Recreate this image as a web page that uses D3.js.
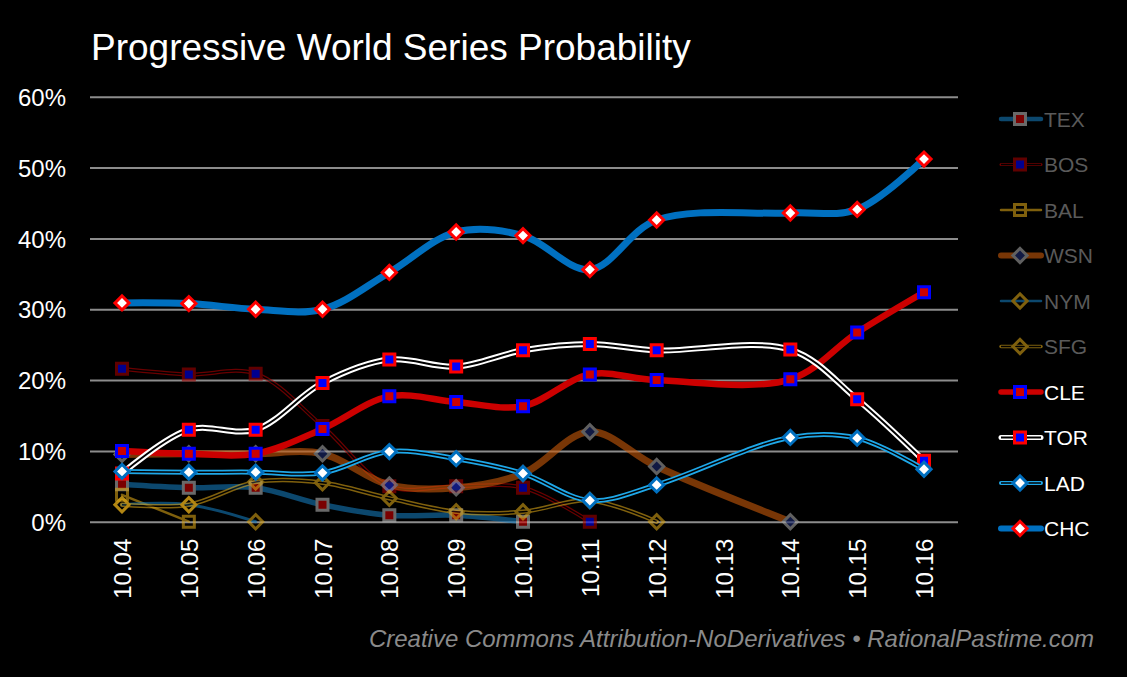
<!DOCTYPE html>
<html>
<head>
<meta charset="utf-8">
<script src="https://d3js.org/d3.v7.min.js"></script>
<style>
  html, body { margin: 0; padding: 0; background: #000; }
  text { font-family: "Liberation Sans", Arial, Helvetica, sans-serif; }
</style>
</head>
<body>
<div class="canvas"></div>
<script>
// data (percent), null = no reading that day
const dates = ['10.04','10.05','10.06','10.07','10.08','10.09','10.10','10.11','10.12','10.13','10.14','10.15','10.16'];
const yTicks = [0, 10, 20, 30, 40, 50, 60];

const tex = [5.3, 4.8, 4.8, 2.4, 0.9, 0.9, 0.0];
const bos = [21.6, 20.8, 20.9, 13.5, 5.0, 5.0, 4.8, 0.0];
const bal = [3.8, 0.0];
const wsn = [9.5, 9.6, 9.6, 9.6, 5.2, 4.8, 6.8, 12.7, 7.8, null, 0.0];
const nym = [2.4, 2.4, 0.0];
const sfg = [2.4, 2.4, 5.6, 5.5, 3.3, 1.4, 1.4, 3.0, 0.0];
const cle = [10.0, 9.6, 9.6, 13.1, 17.7, 16.9, 16.3, 20.8, 20.0, null, 20.1, 26.7, 32.4];
const tor = [6.8, 13.0, 13.0, 19.6, 22.9, 21.9, 24.2, 25.1, 24.2, null, 24.3, 17.3, 8.6];
const lad = [7.1, 7.0, 7.0, 6.9, 9.9, 8.9, 6.8, 3.0, 5.2, null, 11.9, 11.8, 7.4];
const chc = [30.9, 30.8, 30.0, 30.0, 35.2, 40.9, 40.4, 35.6, 42.6, null, 43.6, 44.1, 51.2];

// series styles, in legend / drawing order
const series = [
  {name: 'TEX', values: tex, out: true,  line: '#1478b8', lw: 5.5, inner: null, shape: 'square',  fill: '#cc0000', stroke: '#b0b0b0'},
  {name: 'BOS', values: bos, out: true,  line: '#b00000', lw: 4,   inner: 1.5,  shape: 'square',  fill: '#0000ee', stroke: '#a00000'},
  {name: 'BAL', values: bal, out: true,  line: '#d4a017', lw: 2.5, inner: null, shape: 'square',  fill: 'none',    stroke: '#d4a017'},
  {name: 'WSN', values: wsn, out: true,  line: '#c85a0a', lw: 7,   inner: null, shape: 'diamond', fill: '#1c2a70', stroke: '#a0a0a0'},
  {name: 'NYM', values: nym, out: true,  line: '#1478b8', lw: 3,   inner: null, shape: 'diamond', fill: 'none',    stroke: '#d4a017'},
  {name: 'SFG', values: sfg, out: true,  line: '#d4a017', lw: 4.5, inner: 1.5,  shape: 'diamond', fill: 'none',    stroke: '#d4a017'},
  {name: 'CLE', values: cle, out: false, line: '#cc0000', lw: 6.5, inner: null, shape: 'square',  fill: '#cc0000', stroke: '#0000ff'},
  {name: 'TOR', values: tor, out: false, line: '#ffffff', lw: 6,   inner: 2,    shape: 'square',  fill: '#0000ff', stroke: '#ff0000'},
  {name: 'LAD', values: lad, out: false, line: '#1ea7e8', lw: 5,   inner: 1.5,  shape: 'diamond', fill: '#ffffff', stroke: '#0070c0'},
  {name: 'CHC', values: chc, out: false, line: '#0070c0', lw: 7,   inner: null, shape: 'diamond', fill: '#ffffff', stroke: '#ff0000'}
];

const width = 1127;
const height = 677;

const svg = d3.select('.canvas')
  .append('svg')
  .attr('width', width)
  .attr('height', height);

svg.append('rect')
  .attr('width', width)
  .attr('height', height)
  .attr('fill', '#000');

// title
svg.append('text')
  .attr('x', 91)
  .attr('y', 60)
  .attr('fill', '#fff')
  .attr('font-size', '37px')
  .text('Progressive World Series Probability');

// footer
svg.append('text')
  .attr('x', 1094)
  .attr('y', 647)
  .attr('text-anchor', 'end')
  .attr('fill', '#8a8a8a')
  .attr('font-size', '24px')
  .attr('font-style', 'italic')
  .text('Creative Commons Attribution-NoDerivatives \u2022 RationalPastime.com');

// scales
const x = d3.scalePoint()
  .domain(dates)
  .range([122, 924]);

const y = d3.scaleLinear()
  .domain([0, 60])
  .range([521.7, 96.8]);

// y axis with gridlines
const yAxis = d3.axisLeft(y)
  .tickValues(yTicks)
  .tickSize(-868)
  .tickPadding(24)
  .tickFormat(d => d + '%');

const yAxisGroup = svg.append('g')
  .attr('transform', 'translate(90,0)')
  .call(yAxis);

yAxisGroup.select('.domain').remove();
yAxisGroup.selectAll('line')
  .attr('stroke', '#8c8c8c')
  .attr('stroke-width', 2);
yAxisGroup.selectAll('text')
  .attr('fill', '#fff')
  .attr('font-size', '24px')
  .attr('dy', '0.36em');

// x axis
const xAxis = d3.axisBottom(x).tickSize(0);

const xAxisGroup = svg.append('g')
  .attr('transform', `translate(0, ${y(0)})`)
  .call(xAxis);

xAxisGroup.select('.domain').remove();
xAxisGroup.selectAll('text')
  .attr('fill', '#fff')
  .attr('font-size', '24px')
  .attr('text-anchor', 'end')
  .attr('transform', 'rotate(-90)')
  .attr('x', -17)
  .attr('y', 0)
  .attr('dy', '0.36em');

// marker helpers
const symbolPath = shape => shape === 'square'
  ? d3.symbol().type(d3.symbolSquare).size(121)()
  : d3.symbol().type(d3.symbolSquare).size(100)();

const drawMarker = (g, s, cx, cy) => {
  g.append('path')
    .attr('d', symbolPath(s.shape))
    .attr('transform', `translate(${cx},${cy})` + (s.shape === 'diamond' ? ' rotate(45)' : ''))
    .attr('fill', s.fill)
    .attr('stroke', s.stroke)
    .attr('stroke-width', 3);
};

const line = d3.line()
  .x(d => x(d.date))
  .y(d => y(d.v))
  .curve(d3.curveCatmullRom.alpha(0.5));

const plot = svg.append('g');

series.forEach(s => {
  const pts = s.values
    .map((v, i) => ({date: dates[i], v: v}))
    .filter(d => d.v !== null);

  const g = plot.append('g')
    .attr('opacity', s.out ? 0.6 : 1);

  g.append('path')
    .datum(pts)
    .attr('d', line)
    .attr('fill', 'none')
    .attr('stroke', s.line)
    .attr('stroke-width', s.lw)
    .attr('stroke-linecap', 'round')
    .attr('stroke-linejoin', 'round');

  if (s.inner) {
    g.append('path')
      .datum(pts)
      .attr('d', line)
      .attr('fill', 'none')
      .attr('stroke', '#000')
      .attr('stroke-width', s.inner);
  }

  pts.forEach(d => drawMarker(g, s, x(d.date), y(d.v)));
});

// legend
const legend = svg.append('g');

series.forEach((s, i) => {
  const ly = 119 + i * 45.5;
  const g = legend.append('g')
    .attr('opacity', s.out ? 0.6 : 1);

  g.append('line')
    .attr('x1', 1001).attr('x2', 1041)
    .attr('y1', ly).attr('y2', ly)
    .attr('stroke', s.line)
    .attr('stroke-width', Math.max(s.lw - 1, 2.5))
    .attr('stroke-linecap', 'round');

  if (s.inner) {
    g.append('line')
      .attr('x1', 1001).attr('x2', 1041)
      .attr('y1', ly).attr('y2', ly)
      .attr('stroke', '#000')
      .attr('stroke-width', s.inner);
  }

  drawMarker(g, s, 1020, ly);

  legend.append('text')
    .attr('x', 1044)
    .attr('y', ly)
    .attr('dy', '0.36em')
    .attr('fill', s.out ? '#5a5a5a' : '#fff')
    .attr('font-size', '21px')
    .text(s.name);
});
</script>
</body>
</html>
